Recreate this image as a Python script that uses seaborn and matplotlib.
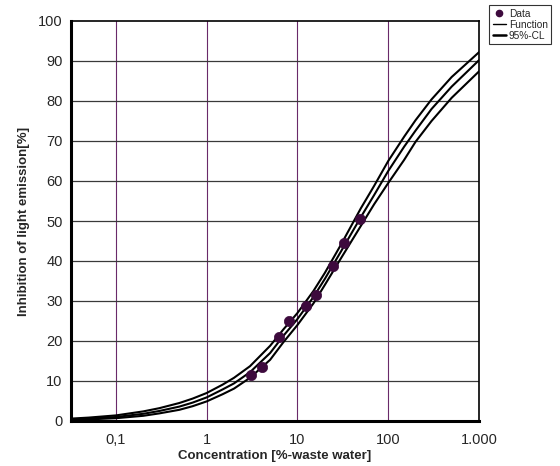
import numpy as np
import pandas as pd
import matplotlib
matplotlib.use("Agg")
import matplotlib.pyplot as plt
from matplotlib.ticker import FixedLocator, FixedFormatter, NullFormatter
from matplotlib.lines import Line2D
import seaborn as sns

# ---- data ----
data_conc = [3.06, 4.1, 6.2, 8.1, 12.4, 16.1, 24.5, 32.9, 49.0]
data_inhib = [11.5, 13.4, 20.9, 25.0, 28.7, 31.6, 38.7, 44.6, 50.4]

curve_conc = [0.032, 0.05, 0.1, 0.2, 0.3, 0.5, 0.7, 1, 1.5, 2, 3, 5, 7, 10, 15, 20, 30,
              50, 70, 100, 150, 200, 300, 500, 700, 1000]
curve_func = [0.4, 0.6, 1.0, 1.8, 2.5, 3.6, 4.6, 5.9, 7.9, 9.4, 12.2, 17.0, 21.3, 25.5, 31.0,
              35.5, 42.3, 51.0, 56.5, 62.5, 68.6, 72.6, 78.0, 83.6, 86.8, 90.2]
curve_upper = [0.6, 0.85, 1.4, 2.4, 3.2, 4.5, 5.6, 7.0, 9.1, 10.8, 13.7, 18.8, 22.9, 27.0, 32.5,
               37.0, 44.0, 53.2, 58.8, 65.0, 71.1, 75.2, 80.4, 86.0, 89.0, 92.2]
curve_lower = [0.25, 0.4, 0.7, 1.3, 1.9, 2.8, 3.7, 4.9, 6.7, 8.1, 10.8, 15.3, 19.7, 24.0, 29.4,
               34.0, 40.6, 48.8, 54.2, 59.5, 65.3, 69.8, 75.0, 80.8, 84.0, 87.4]

x_ticks = [0.1, 1, 10, 100, 1000]
x_tick_labels = ["0,1", "1", "10", "100", "1.000"]
y_ticks = [0, 10, 20, 30, 40, 50, 60, 70, 80, 90, 100]

sns.set_style("white")
plt.rcParams["font.family"] = ["Liberation Sans", "DejaVu Sans"]

fig = plt.figure(figsize=(5.6, 4.66), dpi=100)
ax = fig.add_axes([71 / 560, 1 - 421 / 466, (479 - 71) / 560, 400 / 466])

ax.set_xscale("log")
ax.set_xlim(0.032, 1000)
ax.set_ylim(0, 100)

# grid lines
for v in x_ticks[:-1]:
    ax.axvline(v, color="#6a2a6a", lw=0.8, zorder=1)
for v in y_ticks[1:-1]:
    ax.axhline(v, color="#3a3a3a", lw=0.9, zorder=1)

curves = pd.DataFrame({"conc": curve_conc, "func": curve_func,
                       "upper": curve_upper, "lower": curve_lower})
for col in ["upper", "func", "lower"]:
    sns.lineplot(data=curves, x="conc", y=col, ax=ax, color="black",
                 lw=1.5, zorder=3, estimator=None, sort=True)

pts = pd.DataFrame({"conc": data_conc, "inhib": data_inhib})
sns.scatterplot(data=pts, x="conc", y="inhib", ax=ax, color="#3d0a3d",
                s=55, edgecolor="#3d0a3d", linewidth=0.5, zorder=4)

ax.xaxis.set_major_locator(FixedLocator(x_ticks))
ax.xaxis.set_major_formatter(FixedFormatter(x_tick_labels))
minor_x = [m * 10.0 ** e for e in range(-2, 3) for m in range(2, 10)]
minor_x = [v for v in minor_x if 0.032 <= v <= 1000]
ax.xaxis.set_minor_locator(FixedLocator(minor_x))
ax.xaxis.set_minor_formatter(NullFormatter())
ax.yaxis.set_major_locator(FixedLocator(y_ticks))
ax.yaxis.set_minor_locator(FixedLocator(list(range(0, 101, 2))))

ax.tick_params(axis="both", which="major", direction="out", length=4,
               width=0.8, color="#333333", labelsize=10.5, pad=2)
ax.tick_params(axis="both", which="minor", direction="out", length=2.5,
               width=0.6, color="#888888")
ax.tick_params(axis="x", which="major", pad=5)

for side in ["left", "bottom"]:
    ax.spines[side].set_linewidth(2.2)
    ax.spines[side].set_color("black")
for side in ["top", "right"]:
    ax.spines[side].set_linewidth(1.2)
    ax.spines[side].set_color("black")
    ax.spines[side].set_visible(True)

ax.set_xlabel("Concentration [%-waste water]", fontsize=9.5, fontweight="bold", labelpad=2)
ax.set_ylabel("Inhibition of light emission[%]", fontsize=9.5, fontweight="bold", labelpad=6)

handles = [
    Line2D([], [], marker="o", linestyle="none", color="#3d0a3d", markersize=4.5),
    Line2D([], [], color="black", lw=1.0),
    Line2D([], [], color="black", lw=1.8),
]
leg = fig.legend(handles, ["Data", "Function", "95%-CL"], loc="upper left",
                 bbox_to_anchor=(489 / 560, 1 - 5 / 466), fontsize=7.3,
                 frameon=True, fancybox=False, handlelength=1.3,
                 handletextpad=0.3, borderpad=0.35, labelspacing=0.1,
                 borderaxespad=0)
leg.get_frame().set_edgecolor("black")
leg.get_frame().set_linewidth(0.8)

fig.savefig("out.png", dpi=100)
